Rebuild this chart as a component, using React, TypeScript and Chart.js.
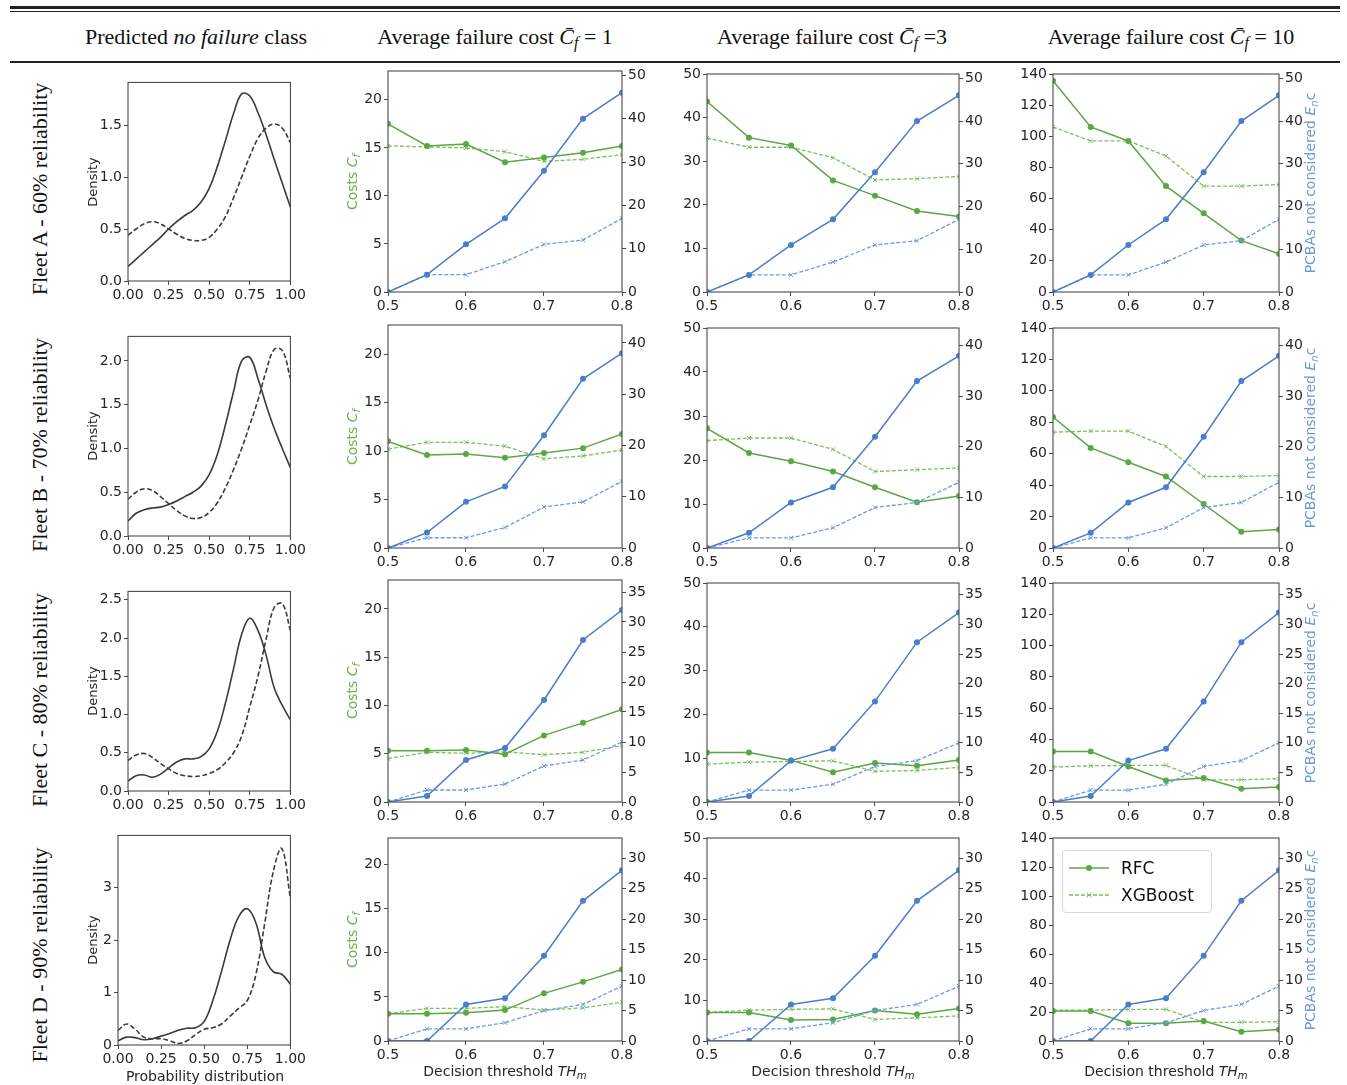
import React, { useEffect, useRef } from "react";
import { Chart, registerables } from "chart.js";
Chart.register(...registerables);

const SANS = "'DejaVu Sans', sans-serif";
const SERIF = "'Liberation Serif', 'Times New Roman', serif";

// ---------- data ----------
const THRESHOLDS = [0.5, 0.55, 0.6, 0.65, 0.7, 0.75, 0.8];
const THRESHOLD_TICKS = [0.5, 0.6, 0.7, 0.8];
const PROB_GRID = [0, 0.05, 0.1, 0.15, 0.2, 0.25, 0.3, 0.35, 0.4, 0.45, 0.5, 0.55, 0.6, 0.65, 0.7, 0.75, 0.8, 0.85, 0.9, 0.95, 1.0];
const PROB_TICKS = [0, 0.25, 0.5, 0.75, 1.0];

const COST1_TICKS = [0, 5, 10, 15, 20];
const COST3_TICKS = [0, 10, 20, 30, 40, 50];
const COST10_TICKS = [0, 20, 40, 60, 80, 100, 120, 140];

// Fleet A - 60%
const A_DENS_SOLID = [0.14, 0.21, 0.28, 0.35, 0.42, 0.5, 0.57, 0.63, 0.68, 0.76, 0.89, 1.1, 1.35, 1.61, 1.8, 1.78, 1.62, 1.41, 1.17, 0.94, 0.71];
const A_DENS_DASHED = [0.44, 0.5, 0.55, 0.57, 0.55, 0.5, 0.45, 0.41, 0.39, 0.39, 0.42, 0.5, 0.62, 0.8, 1.0, 1.2, 1.37, 1.47, 1.51, 1.47, 1.33];
const A_DENS_TICKS = [0, 0.5, 1.0, 1.5];
const A_ENC_RFC = [0, 4, 11, 17, 28, 40, 46];
const A_ENC_XGB = [0, 4, 4, 7, 11, 12, 17];
const A_ENC_TICKS = [0, 10, 20, 30, 40, 50];
const A_COST1_RFC = [17.5, 15.2, 15.4, 13.5, 14.0, 14.5, 15.2];
const A_COST1_XGB = [15.2, 15.1, 15.0, 14.6, 13.6, 13.8, 14.3];
const A_COST3_RFC = [43.7, 35.4, 33.6, 25.6, 22.1, 18.6, 17.3];
const A_COST3_XGB = [35.3, 33.2, 33.2, 30.8, 25.7, 26.0, 26.5];
const A_COST10_RFC = [135.7, 106, 97, 68, 50.5, 33, 24.5];
const A_COST10_XGB = [106, 97, 97, 87.4, 68, 68, 69];

// Fleet B - 70%
const B_DENS_SOLID = [0.17, 0.26, 0.3, 0.32, 0.33, 0.36, 0.4, 0.45, 0.5, 0.57, 0.7, 0.93, 1.27, 1.65, 2.0, 2.04, 1.8, 1.5, 1.23, 1.0, 0.78];
const B_DENS_DASHED = [0.42, 0.5, 0.54, 0.52, 0.45, 0.37, 0.29, 0.23, 0.2, 0.21, 0.27, 0.38, 0.55, 0.76, 1.0, 1.27, 1.55, 1.88, 2.13, 2.12, 1.8];
const B_DENS_TICKS = [0, 0.5, 1.0, 1.5, 2.0];
const B_ENC_RFC = [0, 3, 9, 12, 22, 33, 38];
const B_ENC_XGB = [0, 2, 2, 4, 8, 9, 13];
const B_ENC_TICKS = [0, 10, 20, 30, 40];
const B_COST1_RFC = [11.0, 9.6, 9.7, 9.3, 9.8, 10.3, 11.75];
const B_COST1_XGB = [10.2, 10.9, 10.9, 10.5, 9.2, 9.5, 10.1];
const B_COST3_RFC = [27.2, 21.6, 19.7, 17.4, 13.8, 10.4, 11.8];
const B_COST3_XGB = [24.4, 25.0, 25.0, 22.4, 17.4, 17.8, 18.2];
const B_COST10_RFC = [83.3, 63.7, 54.6, 45.5, 28, 10.4, 11.7];
const B_COST10_XGB = [73.7, 74.4, 74.4, 64.6, 45.5, 45.5, 46.1];

// Fleet C - 80%
const C_DENS_SOLID = [0.13, 0.2, 0.21, 0.18, 0.22, 0.3, 0.38, 0.42, 0.42, 0.45, 0.55, 0.78, 1.15, 1.6, 2.05, 2.26, 2.1, 1.78, 1.35, 1.12, 0.93];
const C_DENS_DASHED = [0.4, 0.47, 0.49, 0.44, 0.36, 0.29, 0.23, 0.2, 0.19, 0.2, 0.23, 0.28, 0.37, 0.5, 0.72, 1.1, 1.5, 1.98, 2.4, 2.45, 2.1];
const C_DENS_TICKS = [0, 0.5, 1.0, 1.5, 2.0, 2.5];
const C_ENC_RFC = [0, 1, 7, 9, 17, 27, 32];
const C_ENC_XGB = [0, 2, 2, 3, 6, 7, 10];
const C_ENC_TICKS = [0, 5, 10, 15, 20, 25, 30, 35];
const C_COST1_RFC = [5.3, 5.3, 5.4, 4.95, 6.9, 8.2, 9.6];
const C_COST1_XGB = [4.5, 5.15, 5.05, 5.2, 4.9, 5.15, 5.85];
const C_COST3_RFC = [11.3, 11.3, 9.5, 6.8, 8.9, 8.3, 9.6];
const C_COST3_XGB = [8.65, 9.1, 9.25, 9.4, 7.0, 7.2, 7.9];
const C_COST10_RFC = [32.3, 32.3, 22.7, 13.8, 15.3, 8.5, 9.6];
const C_COST10_XGB = [22.3, 23.2, 23.4, 23.4, 14.2, 14.2, 14.9];

// Fleet D - 90%
const D_DENS_SOLID = [0.08, 0.15, 0.14, 0.1, 0.12, 0.17, 0.22, 0.28, 0.32, 0.33, 0.45, 0.85, 1.4, 2.0, 2.45, 2.6, 2.33, 1.68, 1.4, 1.35, 1.16];
const D_DENS_DASHED = [0.28, 0.4, 0.3, 0.15, 0.12, 0.12, 0.08, 0.03, 0.08, 0.2, 0.3, 0.33, 0.4, 0.55, 0.7, 0.85, 1.35, 2.3, 3.3, 3.75, 2.8];
const D_DENS_TICKS = [0, 1, 2, 3];
const D_ENC_RFC = [0, 0, 6, 7, 14, 23, 28];
const D_ENC_XGB = [0, 2, 2, 3, 5, 6, 9];
const D_ENC_TICKS = [0, 5, 10, 15, 20, 25, 30];
const D_COST1_RFC = [3.1, 3.1, 3.2, 3.5, 5.4, 6.7, 8.1];
const D_COST1_XGB = [3.1, 3.7, 3.7, 3.9, 3.5, 3.75, 4.4];
const D_COST3_RFC = [7.0, 7.0, 5.2, 5.3, 7.5, 6.6, 8.0];
const D_COST3_XGB = [7.05, 7.6, 7.8, 7.9, 5.3, 5.7, 6.2];
const D_COST10_RFC = [20.7, 20.7, 12.2, 12.2, 13.8, 6.4, 8.0];
const D_COST10_XGB = [21.3, 21.3, 21.8, 21.8, 12.9, 12.9, 13.3];

const FLEET_LABELS = ["Fleet A - 60% reliability", "Fleet B - 70% reliability", "Fleet C - 80% reliability", "Fleet D - 90% reliability"];

// ---------- assembled tables ----------
const FLEETS = [
  { densSolid: A_DENS_SOLID, densDashed: A_DENS_DASHED, densTicks: A_DENS_TICKS, densMax: 1.91, densDec: 1, encRfc: A_ENC_RFC, encXgb: A_ENC_XGB, encTicks: A_ENC_TICKS, encMax: 51, costs: [[A_COST1_RFC, A_COST1_XGB], [A_COST3_RFC, A_COST3_XGB], [A_COST10_RFC, A_COST10_XGB]] },
  { densSolid: B_DENS_SOLID, densDashed: B_DENS_DASHED, densTicks: B_DENS_TICKS, densMax: 2.28, densDec: 1, encRfc: B_ENC_RFC, encXgb: B_ENC_XGB, encTicks: B_ENC_TICKS, encMax: 43.5, costs: [[B_COST1_RFC, B_COST1_XGB], [B_COST3_RFC, B_COST3_XGB], [B_COST10_RFC, B_COST10_XGB]] },
  { densSolid: C_DENS_SOLID, densDashed: C_DENS_DASHED, densTicks: C_DENS_TICKS, densMax: 2.61, densDec: 1, encRfc: C_ENC_RFC, encXgb: C_ENC_XGB, encTicks: C_ENC_TICKS, encMax: 37, costs: [[C_COST1_RFC, C_COST1_XGB], [C_COST3_RFC, C_COST3_XGB], [C_COST10_RFC, C_COST10_XGB]] },
  { densSolid: D_DENS_SOLID, densDashed: D_DENS_DASHED, densTicks: D_DENS_TICKS, densMax: 4.0, densDec: 0, encRfc: D_ENC_RFC, encXgb: D_ENC_XGB, encTicks: D_ENC_TICKS, encMax: 33.3, costs: [[D_COST1_RFC, D_COST1_XGB], [D_COST3_RFC, D_COST3_XGB], [D_COST10_RFC, D_COST10_XGB]] },
];
const COST_TICKS = [COST1_TICKS, COST3_TICKS, COST10_TICKS];
const COST_MAX = [23, 50, 140];

// ---------- layout / style ----------
const GREEN = "#5aa843";
const GREEN_L = "#79c25c";
const BLUE = "#4a7dcb";
const BLUE_L = "#6c9be0";
const GREEN_TXT = "#6cb24e";
const BLUE_TXT = "#6f98d8";
const AXIS = "#4a4a4a";
const INK = "#262626";
const DENS_INK = "#3a3a3a";

const ROW_BOTTOM = [292, 548, 802, 1041];
const ROW_TOP_C2 = [71, 325, 580, 838];
const ROW_TOP_C34 = [74, 328, 583, 838];
const COL_X = [[388, 622], [707, 959], [1053, 1279]];
const DENS_RECTS = [
  [128, 82, 292, 281],
  [128, 336, 292, 536],
  [128, 591, 292, 791],
  [118, 835, 292, 1045],
];

type Rect = { left: number; top: number; right: number; bottom: number };
type Margin = { l: number; r: number; t: number; b: number };

const framePlugin = {
  id: "frame",
  afterDatasetsDraw(chart: any) {
    const { ctx, chartArea: a } = chart;
    ctx.save();
    ctx.strokeStyle = AXIS;
    ctx.lineWidth = 1.1;
    ctx.strokeRect(a.left, a.top, a.right - a.left, a.bottom - a.top);
    ctx.restore();
  },
};

const tickFont = { family: SANS, size: 14 };

function fixedTicks(values: number[]) {
  return (scale: any) => {
    scale.ticks = values.map((v) => ({ value: v }));
  };
}

function axisBase(ticks: number[], min: number, max: number, decimals: number) {
  return {
    type: "linear",
    min,
    max,
    afterBuildTicks: fixedTicks(ticks),
    ticks: {
      font: tickFont,
      color: INK,
      padding: 2,
      autoSkip: false,
      maxRotation: 0,
      callback: (v: any) => Number(v).toFixed(decimals),
    },
    grid: { drawOnChartArea: false, drawTicks: true, tickLength: 4, color: AXIS, tickWidth: 1 },
    border: { display: false },
  };
}

function pts(xs: number[], ys: number[]) {
  return xs.map((x, i) => ({ x, y: ys[i] }));
}

function costConfig(fleetIdx: number, col: number, m: Margin) {
  const f = FLEETS[fleetIdx];
  const [rfc, xgb] = f.costs[col];
  return {
    type: "line",
    data: {
      datasets: [
        { label: "RFC (PCBAs)", data: pts(THRESHOLDS, f.encRfc), yAxisID: "y1", borderColor: BLUE, backgroundColor: BLUE, borderWidth: 1.5, pointStyle: "circle", pointRadius: 3, pointBorderWidth: 0, pointBackgroundColor: BLUE },
        { label: "XGBoost (PCBAs)", data: pts(THRESHOLDS, f.encXgb), yAxisID: "y1", borderColor: BLUE_L, backgroundColor: BLUE_L, borderWidth: 1.3, borderDash: [4, 2], pointStyle: "crossRot", pointRadius: 3, pointBorderWidth: 1, pointBorderColor: BLUE_L },
        { label: "RFC", data: pts(THRESHOLDS, rfc), yAxisID: "y", borderColor: GREEN, backgroundColor: GREEN, borderWidth: 1.5, pointStyle: "circle", pointRadius: 3, pointBorderWidth: 0, pointBackgroundColor: GREEN },
        { label: "XGBoost", data: pts(THRESHOLDS, xgb), yAxisID: "y", borderColor: GREEN_L, backgroundColor: GREEN_L, borderWidth: 1.3, borderDash: [4, 2], pointStyle: "crossRot", pointRadius: 3, pointBorderWidth: 1, pointBorderColor: GREEN_L },
      ],
    },
    options: {
      responsive: false,
      animation: false,
      devicePixelRatio: 1,
      layout: { padding: { top: m.t, left: 0, right: 0, bottom: 0 } },
      plugins: { legend: { display: false }, tooltip: { enabled: false } },
      scales: {
        x: { ...axisBase(THRESHOLD_TICKS, 0.5, 0.8, 1), position: "bottom", afterFit: (s: any) => { s.height = m.b; } },
        y: { ...axisBase(COST_TICKS[col], 0, COST_MAX[col], 0), position: "left", afterFit: (s: any) => { s.width = m.l; } },
        y1: { ...axisBase(f.encTicks, 0, f.encMax, 0), position: "right", afterFit: (s: any) => { s.width = m.r; } },
      },
    },
    plugins: [framePlugin],
  };
}

function densConfig(fleetIdx: number, m: Margin) {
  const f = FLEETS[fleetIdx];
  const common = { borderColor: DENS_INK, borderWidth: 1.6, pointRadius: 0, tension: 0.4 };
  return {
    type: "line",
    data: {
      datasets: [
        { label: "solid", data: pts(PROB_GRID, f.densSolid), ...common },
        { label: "dashed", data: pts(PROB_GRID, f.densDashed), ...common, borderDash: [5, 2.5] },
      ],
    },
    options: {
      responsive: false,
      animation: false,
      devicePixelRatio: 1,
      layout: { padding: { top: m.t, left: 0, right: m.r, bottom: 0 } },
      plugins: { legend: { display: false }, tooltip: { enabled: false } },
      scales: {
        x: { ...axisBase(PROB_TICKS, 0, 1, 2), position: "bottom", afterFit: (s: any) => { s.height = m.b; } },
        y: { ...axisBase(f.densTicks, 0, f.densMax, f.densDec), position: "left", afterFit: (s: any) => { s.width = m.l; } },
      },
    },
    plugins: [framePlugin],
  };
}

function ChartBox({ rect, margin, build }: { rect: Rect; margin: Margin; build: () => any }) {
  const ref = useRef<HTMLCanvasElement>(null);
  const w = rect.right - rect.left + margin.l + margin.r;
  const h = rect.bottom - rect.top + margin.t + margin.b;
  useEffect(() => {
    const chart = new Chart(ref.current as HTMLCanvasElement, build());
    return () => chart.destroy();
  }, []);
  return (
    <div style={{ position: "absolute", left: rect.left - margin.l, top: rect.top - margin.t, width: w, height: h }}>
      <canvas ref={ref} width={w} height={h} style={{ width: w, height: h, display: "block" }} />
    </div>
  );
}

const subStyle: React.CSSProperties = { fontSize: "0.72em", verticalAlign: "-0.28em", lineHeight: 0 };

function Rotated({ cx, cy, children, style }: { cx: number; cy: number; children: any; style?: React.CSSProperties }) {
  return (
    <div style={{ position: "absolute", left: cx, top: cy, transform: "translate(-50%, -50%) rotate(-90deg)", whiteSpace: "nowrap", lineHeight: 1, ...style }}>
      {children}
    </div>
  );
}

function Centered({ cx, cy, children, style }: { cx: number; cy: number; children: any; style?: React.CSSProperties }) {
  return (
    <div style={{ position: "absolute", left: cx, top: cy, transform: "translate(-50%, -50%)", whiteSpace: "nowrap", lineHeight: 1, ...style }}>
      {children}
    </div>
  );
}

function Cbar() {
  return (
    <span>
      <i>C&#x0304;</i>
      <sub style={subStyle}><i>f</i></sub>
    </span>
  );
}

export default function App() {
  const costMargin: Margin = { l: 45, r: 40, t: 12, b: 26 };
  const densMargin: Margin = { l: 40, r: 16, t: 10, b: 26 };
  const headerStyle: React.CSSProperties = { fontFamily: SERIF, fontSize: 22, color: "#111" };
  const rowLabelStyle: React.CSSProperties = { fontFamily: SERIF, fontSize: 22, color: "#111" };

  const panels: any[] = [];
  for (let r = 0; r < 4; r++) {
    const d = DENS_RECTS[r];
    panels.push(
      <ChartBox key={`d${r}`} rect={{ left: d[0], top: d[1], right: d[2], bottom: d[3] }} margin={densMargin} build={() => densConfig(r, densMargin)} />
    );
    for (let c = 0; c < 3; c++) {
      const rect = { left: COL_X[c][0], right: COL_X[c][1], top: c === 0 ? ROW_TOP_C2[r] : ROW_TOP_C34[r], bottom: ROW_BOTTOM[r] };
      panels.push(<ChartBox key={`c${r}${c}`} rect={rect} margin={costMargin} build={() => costConfig(r, c, costMargin)} />);
    }
  }

  const rowCenters = [189, 445, 700, 955];
  const lab: any[] = [];
  for (let r = 0; r < 4; r++) {
    const d = DENS_RECTS[r];
    const cy = (d[1] + d[3]) / 2;
    lab.push(
      <Rotated key={`rl${r}`} cx={40} cy={rowCenters[r]} style={rowLabelStyle}>{FLEET_LABELS[r]}</Rotated>,
      <Rotated key={`dl${r}`} cx={92} cy={cy} style={{ fontFamily: SANS, fontSize: 13, color: INK }}>Density</Rotated>,
      <Rotated key={`cl${r}`} cx={352} cy={(ROW_TOP_C2[r] + ROW_BOTTOM[r]) / 2} style={{ fontFamily: SANS, fontSize: 14, color: GREEN_TXT }}>
        Costs <i>C</i><sub style={subStyle}><i>f</i></sub>
      </Rotated>,
      <Rotated key={`el${r}`} cx={1310} cy={(ROW_TOP_C34[r] + ROW_BOTTOM[r]) / 2} style={{ fontFamily: SANS, fontSize: 14, color: BLUE_TXT }}>
        PCBAs not considered <i>E</i><sub style={subStyle}><i>n</i></sub>c
      </Rotated>
    );
  }

  return (
    <div style={{ position: "absolute", left: 0, top: 0, width: 1347, height: 1085, background: "#fff", overflow: "hidden" }}>
      {/* rules */}
      <div style={{ position: "absolute", left: 10, top: 6, width: 1330, height: 2.5, background: "#222" }} />
      <div style={{ position: "absolute", left: 10, top: 10.5, width: 1330, height: 1, background: "#222" }} />
      <div style={{ position: "absolute", left: 10, top: 61, width: 1330, height: 2, background: "#222" }} />

      {/* header */}
      <Centered cx={196} cy={37} style={headerStyle}>Predicted <i>no failure</i> class</Centered>
      <Centered cx={495} cy={37} style={headerStyle}>Average failure cost <Cbar />&nbsp;= 1</Centered>
      <Centered cx={832} cy={37} style={headerStyle}>Average failure cost <Cbar />&nbsp;=3</Centered>
      <Centered cx={1171} cy={37} style={headerStyle}>Average failure cost <Cbar />&nbsp;= 10</Centered>

      {panels}
      {lab}

      {/* bottom axis titles */}
      <Centered cx={205} cy={1076} style={{ fontFamily: SANS, fontSize: 14, color: INK }}>Probability distribution</Centered>
      {COL_X.map((cx, i) => (
        <Centered key={`xt${i}`} cx={(cx[0] + cx[1]) / 2} cy={1071} style={{ fontFamily: SANS, fontSize: 14, color: INK }}>
          Decision threshold <i>TH</i><sub style={subStyle}><i>m</i></sub>
        </Centered>
      ))}

      {/* legend */}
      <div style={{ position: "absolute", left: 1062, top: 850, width: 150, height: 63, border: "1px solid #d8d8d8", borderRadius: 4, background: "rgba(255,255,255,0.85)", boxSizing: "border-box", fontFamily: SANS, fontSize: 17, color: "#111" }}>
        <div style={{ position: "absolute", left: 6, top: 7, display: "flex", alignItems: "center", height: 20 }}>
          <svg width={40} height={10} style={{ marginRight: 12 }}>
            <line x1={0} y1={5} x2={40} y2={5} stroke={GREEN} strokeWidth={1.5} />
            <circle cx={20} cy={5} r={3} fill={GREEN} />
          </svg>
          <span>RFC</span>
        </div>
        <div style={{ position: "absolute", left: 6, top: 34, display: "flex", alignItems: "center", height: 20 }}>
          <svg width={40} height={10} style={{ marginRight: 12 }}>
            <line x1={0} y1={5} x2={40} y2={5} stroke={GREEN_L} strokeWidth={1.3} strokeDasharray="4 2" />
            <line x1={17.5} y1={2.5} x2={22.5} y2={7.5} stroke={GREEN_L} strokeWidth={1} />
            <line x1={17.5} y1={7.5} x2={22.5} y2={2.5} stroke={GREEN_L} strokeWidth={1} />
          </svg>
          <span>XGBoost</span>
        </div>
      </div>
    </div>
  );
}
